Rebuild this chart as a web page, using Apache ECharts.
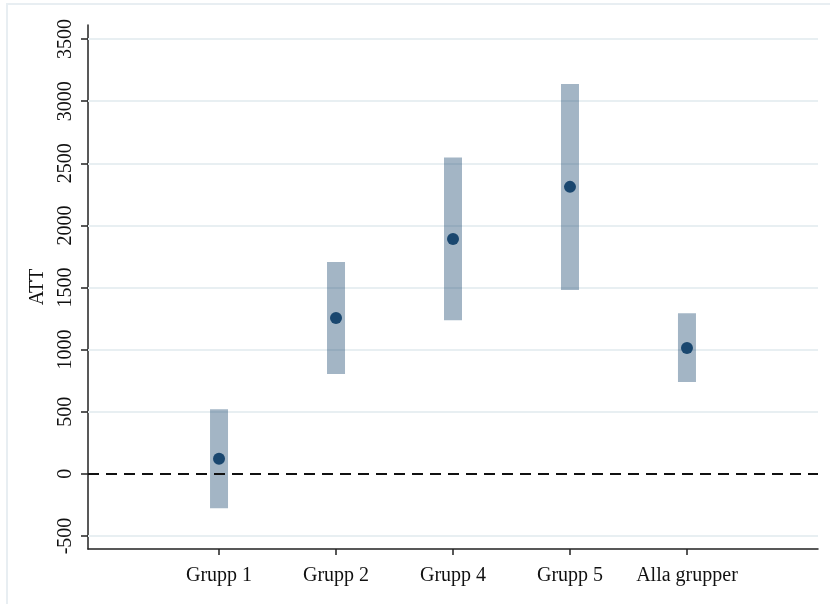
<!DOCTYPE html>
<html>
<head>
<meta charset="utf-8">
<script src="https://cdn.jsdelivr.net/npm/echarts@6/dist/echarts.min.js"></script>
<style>
  html, body { margin: 0; padding: 0; background: #fff; }
  #chart { width: 830px; height: 604px; }
</style>
</head>
<body>
<div id="chart"></div>
<script>
// Group labels and their positions on the x axis
const groups = ['Grupp 1', 'Grupp 2', 'Grupp 4', 'Grupp 5', 'Alla grupper'];
const groupPos = [1, 2, 3, 4, 5];
// Point estimates (ATT) and confidence interval bounds
const att = [121, 1254, 1890, 2310, 1013];
const ciLow = [-276, 804, 1236, 1479, 740];
const ciHigh = [520, 1705, 2547, 3138, 1292];
// Y axis tick values
const yTicks = [-500, 0, 500, 1000, 1500, 2000, 2500, 3000, 3500];

const serif = '"Liberation Serif", "Times New Roman", serif';
const chart = echarts.init(document.getElementById('chart'));

const ciData = groupPos.map((x, i) => [x, ciLow[i], ciHigh[i]]);
const ptData = groupPos.map((x, i) => [x, att[i]]);

chart.setOption({
  animation: false,
  backgroundColor: '#ffffff',
  graphic: [
    { type: 'line', shape: { x1: 6, y1: 4, x2: 830, y2: 4 }, style: { stroke: '#e8eef2', lineWidth: 2 } },
    { type: 'line', shape: { x1: 7, y1: 4, x2: 7, y2: 604 }, style: { stroke: '#e8eef2', lineWidth: 2 } }
  ],
  grid: { left: 88, right: 12, top: 25, bottom: 55, containLabel: false },
  xAxis: {
    type: 'value',
    min: -0.12,
    max: 6.12,
    splitLine: { show: false },
    axisLine: { show: true, onZero: false, lineStyle: { color: '#222', width: 1.5 } },
    axisTick: { show: true, length: 6, customValues: groupPos, lineStyle: { color: '#222', width: 1.5 } },
    axisLabel: {
      customValues: groupPos,
      formatter: v => groups[Math.round(v) - 1] || '',
      color: '#111', fontFamily: serif, fontSize: 20, margin: 17
    }
  },
  yAxis: {
    type: 'value',
    min: -605,
    max: 3613,
    name: 'ATT',
    nameLocation: 'middle',
    nameRotate: 90,
    nameGap: 32,
    nameTextStyle: { color: '#111', fontFamily: serif, fontSize: 20 },
    splitLine: { show: false },
    axisLine: { show: true, onZero: false, lineStyle: { color: '#222', width: 1.5 } },
    axisTick: { show: true, length: 7, customValues: yTicks, lineStyle: { color: '#222', width: 1.5 } },
    axisLabel: {
      customValues: yTicks,
      formatter: v => String(v),
      rotate: 90,
      color: '#111', fontFamily: serif, fontSize: 20, margin: 12
    }
  },
  series: [
    {
      // horizontal grid lines
      type: 'line',
      data: [],
      silent: true,
      z: 1,
      markLine: {
        symbol: 'none',
        silent: true,
        z: 1,
        label: { show: false },
        data: yTicks.filter(v => v !== 0).map(v => ({
          yAxis: v,
          lineStyle: { color: '#e8eff2', width: 2, type: 'solid' }
        }))
      }
    },
    {
      // confidence interval bars
      type: 'custom',
      data: ciData,
      renderItem: (params, api) => {
        const x = api.value(0);
        const top = api.coord([x, api.value(2)]);
        const bot = api.coord([x, api.value(1)]);
        const w = 18;
        return {
          type: 'rect',
          shape: { x: top[0] - w / 2, y: top[1], width: w, height: bot[1] - top[1] },
          style: { fill: 'rgba(26,71,111,0.4)' }
        };
      },
      z: 3
    },
    {
      // dashed reference line at zero, drawn over the bars
      type: 'line',
      data: [],
      silent: true,
      z: 4,
      markLine: {
        symbol: 'none',
        silent: true,
        z: 4,
        label: { show: false },
        data: [{ yAxis: 0, lineStyle: { color: '#111', width: 2, type: [11, 7] } }]
      }
    },
    {
      type: 'scatter',
      data: ptData,
      symbol: 'circle',
      symbolSize: 12,
      itemStyle: { color: '#1a476f', opacity: 1 },
      z: 5
    }
  ]
});
</script>
</body>
</html>
